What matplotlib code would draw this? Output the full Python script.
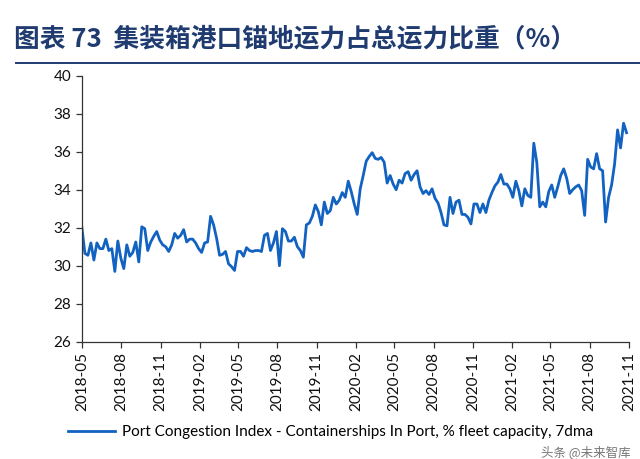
import matplotlib
matplotlib.use('Agg')
import matplotlib.pyplot as plt
import matplotlib.dates as mdates
from matplotlib.lines import Line2D
import pandas as pd

# weekly readings, % of fleet capacity waiting in port
start_date = '2018-05-01'
congestion = [
    32.0, 30.65, 30.55, 31.2, 30.3, 31.2, 30.9, 30.9, 31.4, 30.8,
    30.9, 29.7, 31.3, 30.4, 29.85, 31.1, 30.5, 30.7, 31.25, 30.2,
    32.05, 31.95, 30.8, 31.25, 31.55, 31.8, 31.35, 31.1, 31.0, 30.75,
    31.1, 31.7, 31.45, 31.6, 31.9, 31.25, 31.4, 31.4, 31.2, 30.9,
    30.7, 31.2, 31.25, 32.6, 32.15, 31.45, 30.55, 30.6, 30.75, 30.1,
    29.95, 29.75, 30.75, 30.75, 30.5, 30.95, 30.8, 30.75, 30.8, 30.8,
    30.75, 31.6, 31.7, 30.8, 31.2, 31.8, 30.0, 31.95, 31.8, 31.3,
    31.3, 31.5, 31.0, 30.8, 30.45, 32.15, 32.25, 32.6, 33.2, 32.85,
    32.15, 33.35, 32.75, 32.9, 33.6, 33.25, 33.45, 33.85, 33.6, 34.45,
    33.9, 33.25, 32.7, 34.05, 34.75, 35.5, 35.75, 35.95, 35.65, 35.6,
    35.7, 35.45, 34.35, 34.75, 34.3, 34.0, 34.5, 34.35, 34.85, 34.95,
    34.5, 34.8, 35.0, 34.15, 33.8, 33.95, 33.75, 34.05, 33.55, 33.3,
    32.8, 32.15, 32.1, 33.6, 32.75, 33.35, 33.45, 32.7, 32.7, 32.55,
    32.2, 33.25, 33.25, 32.8, 33.25, 32.8, 33.45, 33.85, 34.2, 34.4,
    34.8, 34.3, 34.3, 34.05, 33.6, 34.45, 33.95, 33.15, 34.05, 33.7,
    33.6, 36.45, 35.45, 33.1, 33.35, 33.1, 33.9, 34.25, 33.6, 34.15,
    34.75, 35.1, 34.6, 33.8, 34.0, 34.15, 34.25, 33.95, 32.65, 35.6,
    35.2, 35.1, 35.9, 35.1, 35.0, 32.3, 33.6, 34.25, 35.35, 37.15,
    36.2, 37.5, 37.0,
]
dates = pd.date_range(start_date, periods=len(congestion), freq='7D')

x_start, x_end = '2018-05-01', '2021-11-01'
tick_dates = pd.date_range(x_start, x_end, freq='3MS')
y_ticks = list(range(26, 41, 2))

title = '图表 73  集装箱港口锚地运力占总运力比重（%）'
series_name = 'Port Congestion Index - Containerships In Port, % fleet capacity, 7dma'
watermark = '头条 @未来智库'

plt.rcParams['font.family'] = ['Lato', 'Noto Sans CJK SC', 'DejaVu Sans']
blue = '#1262C1'
navy = '#1F3B70'

fig = plt.figure(figsize=(6.4, 4.59), dpi=100)
ax = fig.add_axes([0.128, 0.2555, 0.855, 0.5795])

line, = ax.plot(dates, congestion, color=blue, lw=2.0, label=series_name)

ax.set_xlim(pd.Timestamp(x_start), pd.Timestamp(x_end))
ax.set_ylim(26, 40)
ax.set_yticks(y_ticks)
ax.set_xticks(tick_dates)
ax.xaxis.set_major_formatter(mdates.DateFormatter('%Y-%m'))
for lbl in ax.get_xticklabels():
    lbl.set_rotation(90)

for side in ['top', 'right']:
    ax.spines[side].set_visible(False)
for side in ['left', 'bottom']:
    ax.spines[side].set_color('#333333')
    ax.spines[side].set_linewidth(0.9)
ax.tick_params(axis='both', direction='out', length=4, width=0.9,
               color='#333333', labelsize=11, labelcolor='#111111')

# title and rule below it
fig.text(0.022, 0.915, title, fontsize=18.5, fontweight='bold', color=navy,
         va='center', family=['Noto Sans CJK SC', 'DejaVu Sans'])
fig.add_artist(Line2D([0.025, 1.0], [0.862, 0.862], transform=fig.transFigure,
                      color=navy, lw=1.4))

fig.legend(handles=[line], loc='center left', bbox_to_anchor=(0.106, 0.059),
           frameon=False, fontsize=11, handlelength=3.1, handletextpad=0.45,
           borderpad=0, borderaxespad=0)

fig.text(0.985, 0.016, watermark, fontsize=9, color='#777777', ha='right',
         va='center', family=['Noto Sans CJK SC', 'DejaVu Sans'])

fig.savefig('out.png', dpi=100)
